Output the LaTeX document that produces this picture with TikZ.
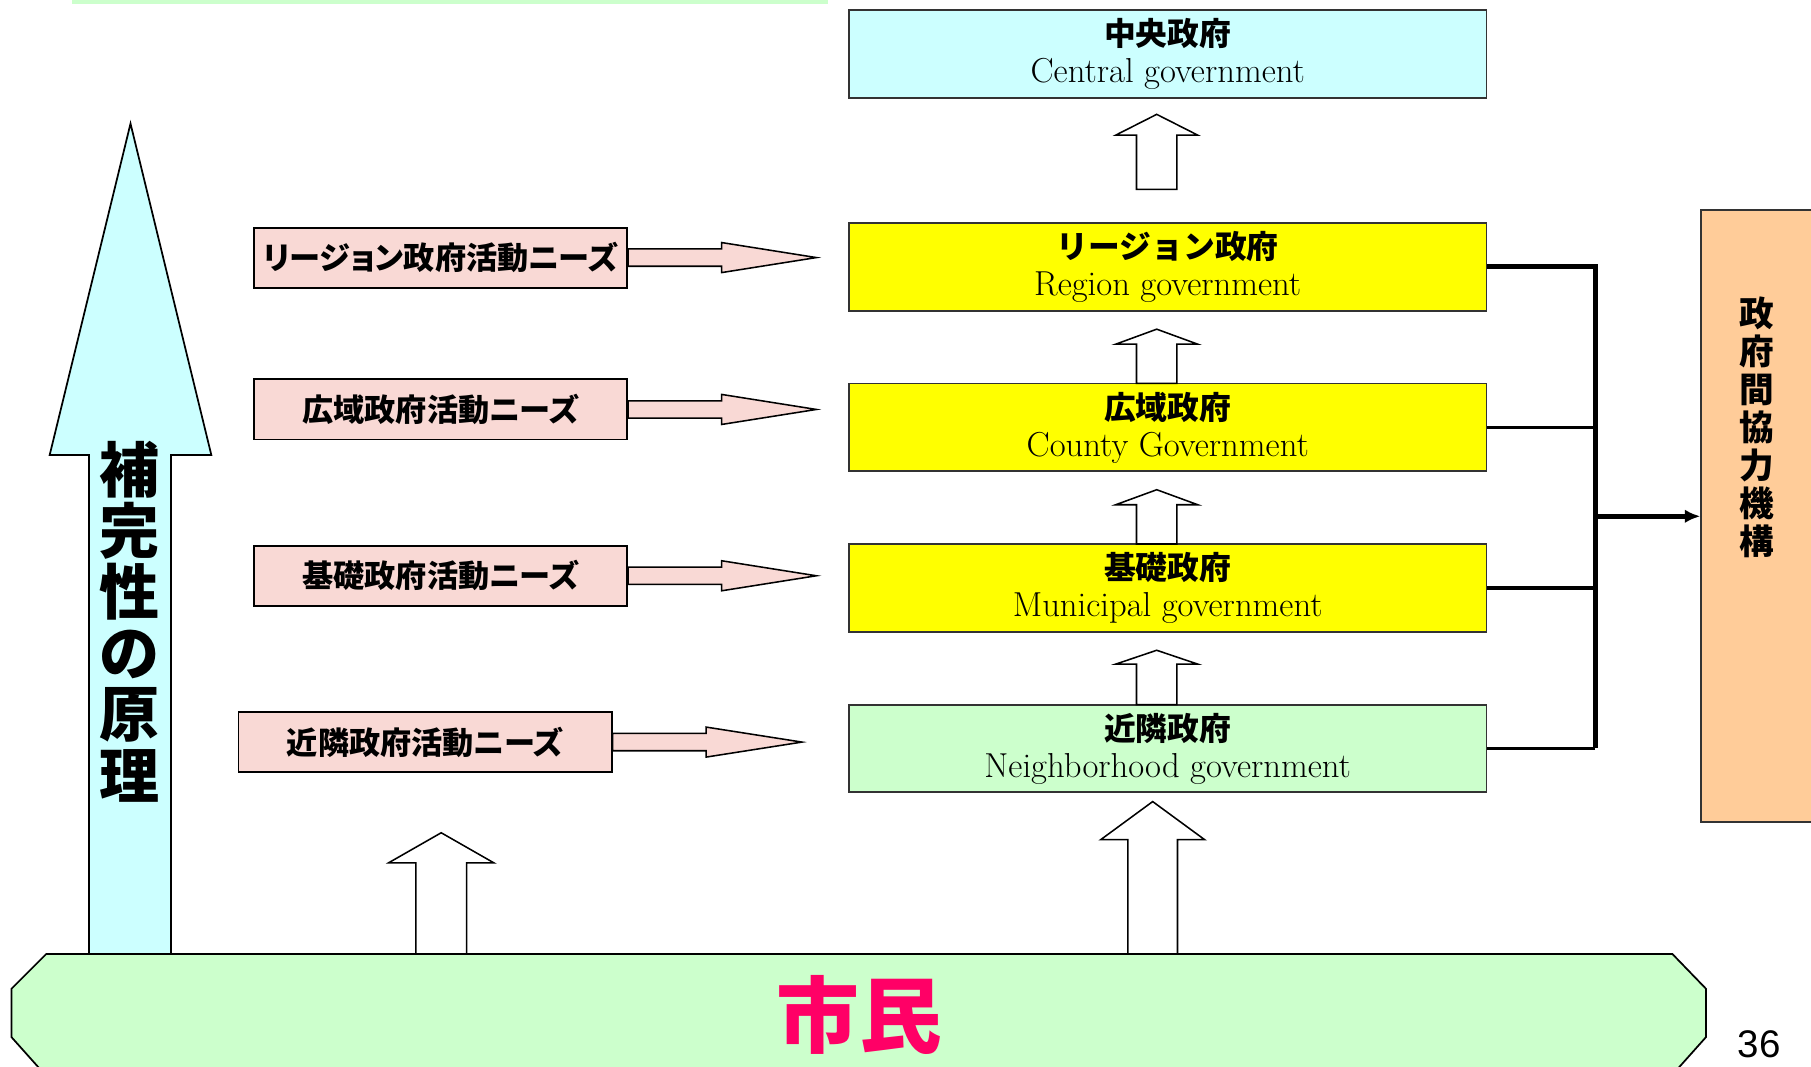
\documentclass[tikz,border=0pt]{standalone}
\usepackage{fontspec}
\newfontfamily\jp{Noto Sans CJK JP}
\newfontfamily\jpp[RawFeature=+palt]{Noto Sans CJK JP}
\newfontfamily\numfont{Liberation Sans}
\usetikzlibrary{arrows.meta,calc}
\definecolor{cyanfill}{HTML}{CCFFFF}
\definecolor{yellowfill}{HTML}{FFFF00}
\definecolor{greenfill}{HTML}{CCFFCC}
\definecolor{orangefill}{HTML}{FFCC99}
\definecolor{pinkfill}{HTML}{F9D9D5}
\definecolor{shimin}{HTML}{FF0066}
\newcommand{\blockup}[6]{%
  \filldraw[fill=white,draw=black,line width=0.8pt,line join=miter]
    (#1,#2) -- (#1+#5,#3) -- (#1+#6,#3) -- (#1+#6,#4) -- (#1-#6,#4) -- (#1-#6,#3) -- (#1-#5,#3) -- cycle;}
\newcommand{\needarrow}[3]{% #1 anchor, #2 head start, #3 tip
  \begin{scope}[shift={(#1)}]
    \filldraw[fill=pinkfill,draw=black,line width=0.8pt]
      (0,-7.5) -- (#2,-7.5) -- (#2,-13) -- (#3,0) -- (#2,13) -- (#2,7.5) -- (0,7.5) -- cycle;
  \end{scope}}
\begin{document}
\begin{tikzpicture}[x=0.6pt,y=-0.6pt,
  govbox/.style={draw=black!80,line width=1pt,minimum width=331.2pt,minimum height=45.6pt,inner sep=0pt},
  govjp/.style={font={\jp\bfseries\fontsize{16.5}{18}\selectfont},inner sep=0pt,anchor=base},
  goven/.style={font={\addfontfeatures{FakeBold=1.2}\fontsize{18}{20}\selectfont},inner sep=0pt,anchor=base},
  needbox/.style={draw=black,line width=1pt,fill=pinkfill,minimum width=193.8pt,minimum height=31.2pt,inner sep=0pt,
    font={\jpp\bfseries\fontsize{16.2}{18}\selectfont}},
  conn/.style={line width=1.9pt},
  connthick/.style={line width=2.6pt}]
\useasboundingbox (0,0) rectangle (1568,923);

% top strip
\fill[greenfill] (62,0) rectangle (717,3.5);

% left big arrow
\filldraw[fill=cyanfill,draw=black,line width=0.9pt]
  (113,107) -- (183,394) -- (148,394) -- (148,830) -- (77,830) -- (77,394) -- (43,394) -- cycle;
\node[font={\jp\bfseries\fontsize{31.2}{31.8}\selectfont},align=center,inner sep=0pt] (hokan) at (112,538)
  {補\\完\\性\\の\\原\\理};

% need arrows and boxes
\node[needbox] (n1) at (381.5,223) {};
\node[needbox] (n2) at (381.5,354.5) {};
\node[needbox] (n3) at (381.5,498.5) {};
\node[needbox] (n4) at (368,642.5) {};
\needarrow{n1.east}{81}{163}
\needarrow{n2.east}{81}{163}
\needarrow{n3.east}{81}{163}
\needarrow{n4.east}{81}{164}
\node[needbox] (n1t) at (n1) {リージョン政府活動ニーズ};
\node[needbox] (n2t) at (n2) {広域政府活動ニーズ};
\node[needbox] (n3t) at (n3) {基礎政府活動ニーズ};
\node[needbox] (n4t) at (n4) {近隣政府活動ニーズ};

% government boxes
\node[govbox,fill=cyanfill] (cg) at (1011,46.5) {};
\node[govjp] (cgj) at (1011,39.5) {中央政府};
\node[goven] (cge) at (1011,71.5) {Central government};

\node[govbox,fill=yellowfill] (rg) at (1011,231) {};
\node[govjp] (rgj) at (1011,224) {リージョン政府};
\node[goven] (rge) at (1011,256) {Region government};

\node[govbox,fill=yellowfill] (co) at (1011,370) {};
\node[govjp] (coj) at (1011,363) {広域政府};
\node[goven] (coe) at (1011,395) {County Government};

\node[govbox,fill=yellowfill] (mu) at (1011,509) {};
\node[govjp] (muj) at (1011,502) {基礎政府};
\node[goven] (mue) at (1011,534) {Municipal government};

\node[govbox,fill=greenfill] (ne) at (1011,648) {};
\node[govjp] (nej) at (1011,641) {近隣政府};
\node[goven] (nee) at (1011,673) {Neighborhood government};

% hollow arrows between government boxes
\blockup{1001.5}{99}{117}{164}{35.5}{17.5}
\blockup{1001.5}{285}{298}{332}{35.5}{17.5}
\blockup{1001.5}{424}{437}{471}{35.5}{17.5}
\blockup{1001.5}{563}{575}{610}{35.5}{17.5}

% hollow arrows from citizens
\blockup{998}{694}{727}{828}{45}{21.5}
\blockup{382}{721}{747}{828}{45.5}{22}

% cooperation body
\node[draw=black!80,line width=1pt,fill=orangefill,minimum width=64.2pt,minimum height=318pt,inner sep=0pt] (org) at (1526.5,447) {};
\node[font={\jp\bfseries\fontsize{18}{19.8}\selectfont},align=center,inner sep=0pt] (orgt) at (1521,370)
  {政\\府\\間\\協\\力\\機\\構};

% connectors
\coordinate (bus) at (1381,447);
\draw[connthick] (rg.east) -- (rg.east -| bus) -- (ne.east -| bus);
\draw[conn] (co.east) -- (co.east -| bus);
\draw[conn] (mu.east) -- (mu.east -| bus);
\draw[conn] (ne.east) -- (ne.east -| bus);
\draw[connthick,-{Latex[length=8pt,width=7pt]}] (bus) -- (org.west);

% citizens
\fill[greenfill] (40,826) -- (1448,826) -- (1477,856) -- (1477,898) -- (1452,926) -- (35,926) -- (10,898) -- (10,856) -- cycle;
\draw[line width=0.9pt] (35,926) -- (10,898) -- (10,856) -- (40,826) -- (1448,826) -- (1477,856) -- (1477,898) -- (1452,926);
\node[font={\jp\bfseries\fontsize{43}{45}\selectfont},text=shimin,inner sep=0pt] (shiminlabel) at (744,879) {市民};

\node[font={\numfont\fontsize{20}{22}\selectfont},inner sep=0pt] (pagenum) at (1523,904) {36};
\end{tikzpicture}
\end{document}
